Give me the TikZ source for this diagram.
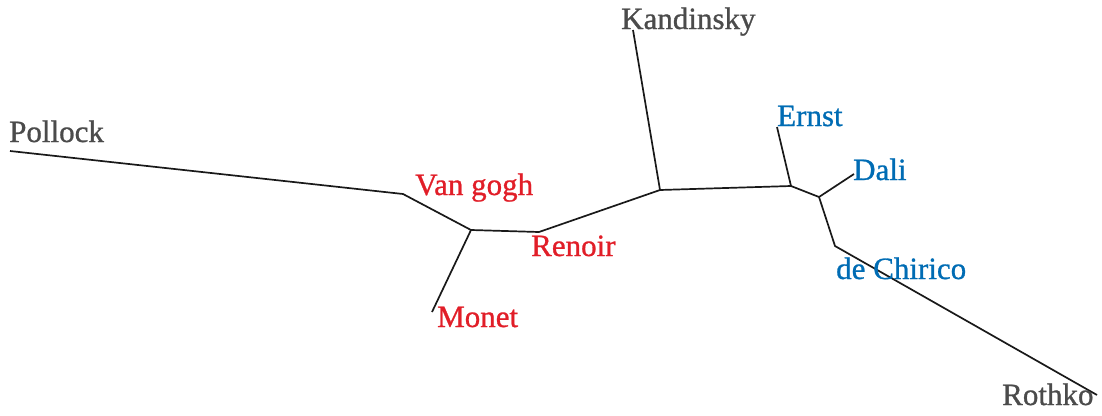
\documentclass[tikz,border=0pt]{standalone}
\usepackage{fontspec}
\setmainfont{Liberation Serif}
\newfontfamily\labfont{Liberation Serif}[FakeBold=0.9]
\definecolor{tgray}{RGB}{75,75,75}
\definecolor{tred}{RGB}{225,30,40}
\definecolor{tblue}{RGB}{0,108,180}
\tikzset{
  branch/.style={line width=1.7pt, black!90, line join=round},
  leaf/.style={anchor=base west, inner sep=0pt, font=\labfont\fontsize{31}{31}\selectfont},
}
\begin{document}
\begin{tikzpicture}[x=1pt,y=-1pt]
\useasboundingbox (0,0) rectangle (1102,415);
% tree points
\coordinate (pollock) at (10,151);
\coordinate (vangogh) at (403,194);
\coordinate (nA) at (471,230);
\coordinate (monet) at (432,312);
\coordinate (renoir) at (539,232);
\coordinate (nB) at (660,190);
\coordinate (kandinsky) at (633,30);
\coordinate (nC) at (791,186);
\coordinate (ernst) at (777,127);
\coordinate (nD) at (819,197);
\coordinate (dali) at (854,174);
\coordinate (dechirico) at (835,246);
\coordinate (rothko) at (1097,395);
% branches
\draw[branch] (pollock) -- (vangogh) -- (nA) -- (renoir) -- (nB) -- (nC) -- (nD) -- (dechirico) -- (rothko);
\draw[branch] (nA) -- (monet);
\draw[branch] (nB) -- (kandinsky);
\draw[branch] (nC) -- (ernst);
\draw[branch] (nD) -- (dali);
% labels
\node[leaf, text=tgray] (lpollock) at (9,142) {Pollock};
\node[leaf, text=tgray] (lkandinsky) at (621,29) {Kandinsky};
\node[leaf, text=tgray] (lrothko) at (1002,405) {Rothko};
\node[leaf, text=tred] (lvangogh) at (415,195) {Van gogh};
\node[leaf, text=tred] (lrenoir) at (531,256) {Renoir};
\node[leaf, text=tred] (lmonet) at (437,327) {Monet};
\node[leaf, text=tblue] (lernst) at (777,126) {Ernst};
\node[leaf, text=tblue] (ldali) at (853,180) {Dali};
\node[leaf, text=tblue] (ldechirico) at (836,279) {de Chirico};
\end{tikzpicture}
\end{document}
